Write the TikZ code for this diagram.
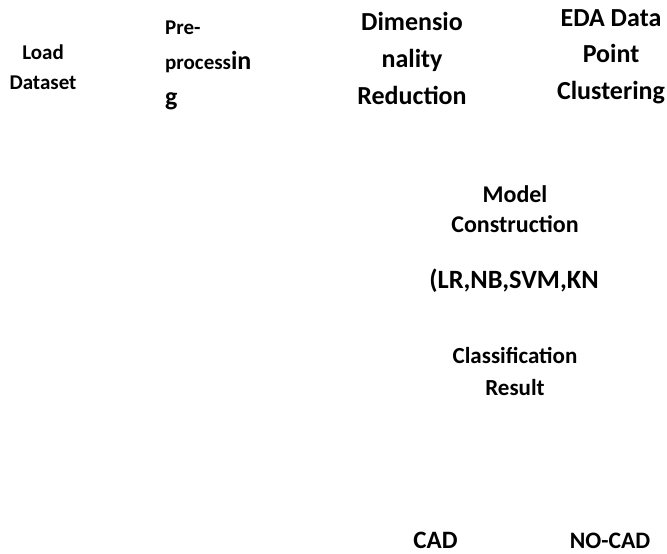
\documentclass[tikz,border=0pt]{standalone}
\usepackage{fontspec}
\setmainfont{Carlito}
\usepackage{tikz}

\begin{document}
\begin{tikzpicture}[x=1pt, y=-1pt,
		step_one/.style={inner sep=0pt, anchor=base, font=\bfseries},
		step_text/.style={step_one, align=center},
		step_left/.style={inner sep=0pt, anchor=base west, align=left, font=\bfseries}]

		\useasboundingbox (0,0) rectangle (667,554);

		% first row of steps
		\node[step_text, font=\bfseries\fontsize{21}{30}\selectfont] (n0) at (43,89) {Load\\Dataset};
		\node[step_left, font=\bfseries\fontsize{21}{35.5}\selectfont] (n1) at (165,105) {Pre-\\process{\fontsize{26}{35.5}\selectfont in}\\{\fontsize{26}{35.5}\selectfont g}};
		\node[step_text, font=\bfseries\fontsize{26}{37}\selectfont] (n2) at (412,104) {Dimensio\\nality\\Reduction};
		\node[step_text, font=\bfseries\fontsize{26}{36.5}\selectfont] (n3) at (611,99) {EDA Data\\Point\\Clustering};

		% model and result
		\node[step_text, font=\bfseries\fontsize{24}{30}\selectfont] (n4) at (515,232) {Model\\Construction};
		\node[step_one, font=\bfseries\fontsize{26.4}{30}\selectfont] (n5) at (514,288) {(LR,NB,SVM,KN};
		\node[step_text, font=\bfseries\fontsize{23}{32}\selectfont] (n6) at (515,395) {Classification\\Result};

		% outcomes
		\node[step_one, font=\bfseries\fontsize{25}{30}\selectfont] (n7) at (435.5,548) {CAD};
		\node[step_one, font=\bfseries\fontsize{23.6}{30}\selectfont] (n8) at (610,548) {NO-CAD};

\end{tikzpicture}
\end{document}
